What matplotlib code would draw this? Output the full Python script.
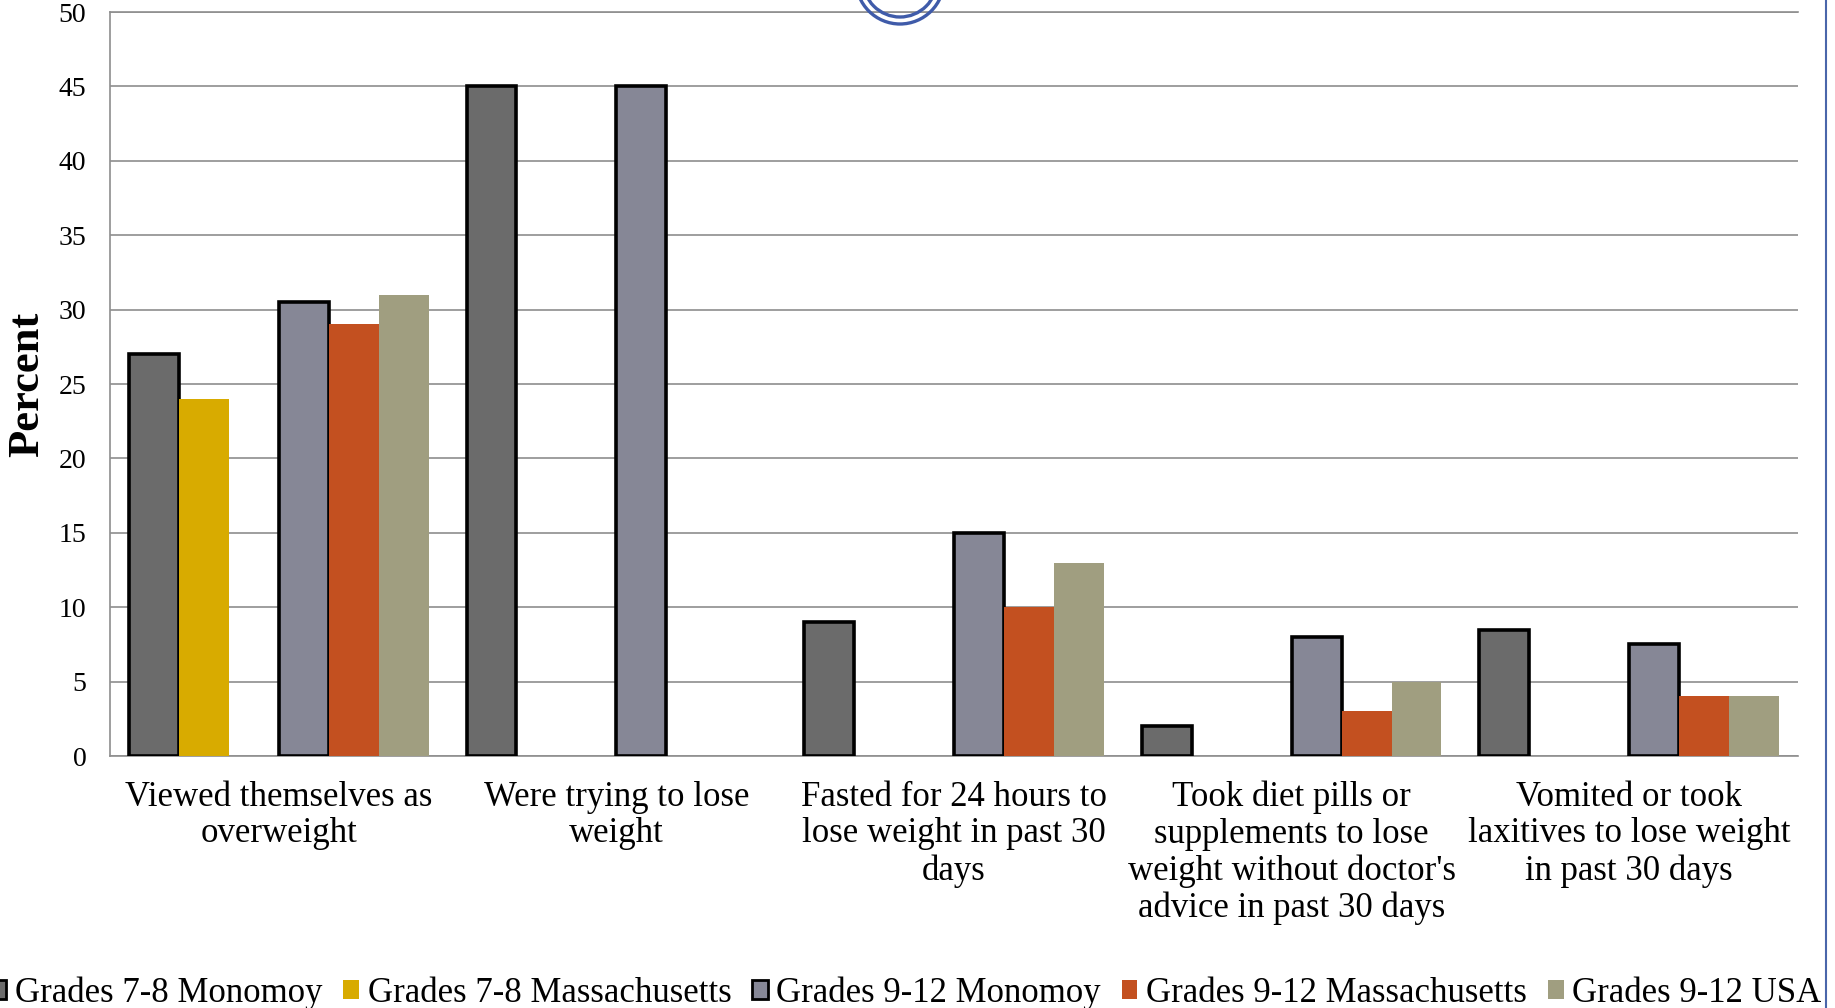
import numpy as np
import matplotlib
matplotlib.use('Agg')
import matplotlib.pyplot as plt
from matplotlib.patches import Patch, Ellipse
from matplotlib.lines import Line2D

# categories (x-axis groups)
categories = [
    "Viewed themselves as\noverweight",
    "Were trying to lose\nweight",
    "Fasted for 24 hours to\nlose weight in past 30\ndays",
    "Took diet pills or\nsupplements to lose\nweight without doctor's\nadvice in past 30 days",
    "Vomited or took\nlaxitives to lose weight\nin past 30 days",
]
series_names = ["Grades 7-8 Monomoy", "Grades 7-8 Massachusetts", "Grades 9-12 Monomoy",
                "Grades 9-12 Massachusetts", "Grades 9-12 USA"]
g78_monomoy = [27, 45, 9, 2, 8.5]
g78_mass = [24, np.nan, np.nan, np.nan, np.nan]
g912_monomoy = [30.5, 45, 15, 8, 7.5]
g912_mass = [29, np.nan, 10, 3, 4]
g912_usa = [31, np.nan, 13, 5, 4]

values = [g78_monomoy, g78_mass, g912_monomoy, g912_mass, g912_usa]
colors = ['#6b6b6b', '#d8ab00', '#868796', '#c35020', '#a09e80']
outlined = [True, False, True, False, False]
slots = [0, 1, 3, 4, 5]   # slot 2 is an empty series in the original chart

plt.rcParams['font.family'] = ['Liberation Serif', 'DejaVu Serif']
GRID = '#8e8e8e'

fig = plt.figure(figsize=(18.35, 10.08), dpi=100)
ax = fig.add_axes([110/1835, 1-756/1008, 1688/1835, 744/1008])

x = np.arange(len(categories))
w = 0.148
for vals, col, edge, slot in zip(values, colors, outlined, slots):
    ax.bar(x + (slot-2.5)*w, vals, w, color=col,
           edgecolor='black' if edge else col, linewidth=2.6 if edge else 0, zorder=3)

ax.set_ylim(0, 50)
ax.set_xlim(-0.5, len(categories)-0.5)
ax.set_yticks(range(0, 51, 5))
ax.yaxis.grid(True, color=GRID, lw=1.2)
ax.set_axisbelow(True)
for s in ['left', 'bottom', 'top']:
    ax.spines[s].set_color(GRID); ax.spines[s].set_linewidth(1.2)
ax.spines['right'].set_visible(False)
ax.tick_params(axis='y', length=0, pad=17, labelsize=20)
ax.set_xticks(x)
ax.set_xticklabels(categories, fontsize=25, linespacing=1.14)
ax.tick_params(axis='x', length=0, pad=18)

fig.text(27/1835, 1-384/1008, 'Percent', rotation=90, ha='center', va='center',
         fontsize=32, fontweight='bold')

handles = [Patch(facecolor=c, edgecolor='black' if e else c, linewidth=2 if e else 0)
           for c, e in zip(colors, outlined)]
fig.legend(handles, series_names, ncol=5, loc='center', frameon=False,
           bbox_to_anchor=(906/1835, 1-993/1008), fontsize=25,
           handlelength=0.45, handleheight=0.45, handletextpad=0.25,
           columnspacing=0.6, borderpad=0, borderaxespad=0)

# slide decoration: ring at top and border line at right
for r in (44, 37):
    fig.add_artist(Ellipse((900/1835, 1+20/1008), 2*r/1835, 2*r/1008, fill=False,
                           edgecolor='#3f5ba9', lw=2.4, transform=fig.transFigure))
fig.add_artist(Line2D([1826/1835, 1826/1835], [0, 1], color='#4a66aa', lw=1.5,
                      transform=fig.transFigure))

fig.savefig('out.png', dpi=100)
